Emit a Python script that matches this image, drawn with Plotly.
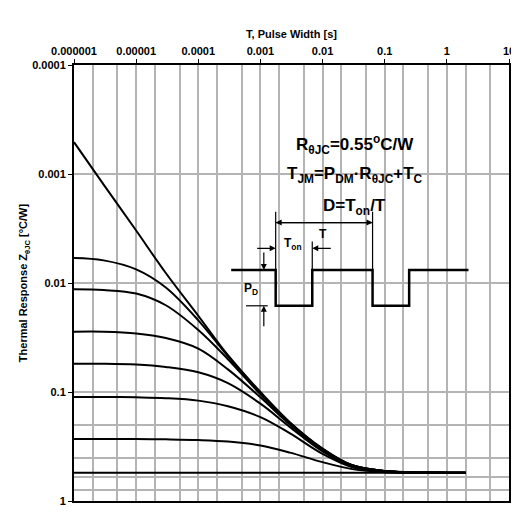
import plotly.graph_objects as go

# pulse width [s]
t = [1e-6, 3e-6, 1e-5, 3e-5, 1e-4, 3e-4, 1e-3, 3e-3, 1e-2, 3e-2, 1e-1, 1, 2]

# thermal response Zthjc [C/W]
z_single = [0.00051, 0.00125, 0.0033, 0.0081, 0.020, 0.046, 0.10, 0.19, 0.33, 0.47, 0.53, 0.55, 0.55]
z_001 = [0.0059, 0.0062, 0.0075, 0.011, 0.022, 0.047, 0.102, 0.192, 0.332, 0.47, 0.53, 0.55, 0.55]
z_002 = [0.0114, 0.0116, 0.0125, 0.016, 0.027, 0.050, 0.105, 0.195, 0.335, 0.47, 0.53, 0.55, 0.55]
z_005 = [0.028, 0.028, 0.029, 0.032, 0.040, 0.062, 0.112, 0.20, 0.34, 0.475, 0.53, 0.55, 0.55]
z_01 = [0.055, 0.055, 0.056, 0.059, 0.066, 0.083, 0.128, 0.21, 0.35, 0.48, 0.535, 0.55, 0.55]
z_02 = [0.111, 0.111, 0.112, 0.114, 0.12, 0.135, 0.17, 0.24, 0.37, 0.49, 0.54, 0.55, 0.55]
z_05 = [0.27, 0.27, 0.27, 0.272, 0.276, 0.285, 0.31, 0.36, 0.44, 0.51, 0.545, 0.55, 0.55]
z_d1 = [0.55] * len(t)

series = [z_single, z_001, z_002, z_005, z_01, z_02, z_05, z_d1]
labels = ["Single Pulse", "0.01", "0.02", "0.05", "0.1", "0.2", "0.5", "D=1"]
label_pos = [(2.2e-5, 0.00055), (3e-6, 0.0035), (4e-6, 0.0065), (4e-6, 0.0150),
             (3.5e-6, 0.030), (3.5e-6, 0.062), (4e-6, 0.155), (4e-6, 0.31)]

x_ticks = [1e-6, 1e-5, 1e-4, 1e-3, 1e-2, 1e-1, 1, 10]
x_ticktext = ["0.000001", "0.00001", "0.0001", "0.001", "0.01", "0.1", "1", "10"]
y_ticks = [0.0001, 0.001, 0.01, 0.1, 1]
y_ticktext = ["0.0001", "0.001", "0.01", "0.1", "1"]

fnt = dict(family="Arial, Liberation Sans", size=11, color="black")

fig = go.Figure()
for z in series:
    fig.add_trace(go.Scatter(x=t, y=z, mode="lines", line=dict(color="black", width=2, shape="spline"),
                             showlegend=False, hoverinfo="skip"))

for lab, (lx, ly) in zip(labels, label_pos):
    fig.add_annotation(x=lx, y=ly, text="<b>" + lab + "</b>", showarrow=False, font=fnt,
                       xref="x", yref="y", xanchor="left")


def px(x):
    return (x - 66) / 440


def py(y):
    return (497 - y) / 440


# white inset box
fig.add_shape(type="rect", xref="paper", yref="paper", x0=px(222), x1=px(478), y0=py(327), y1=py(88),
              fillcolor="white", line=dict(width=0), layer="between")

big = dict(family="Arial, Liberation Sans", size=17, color="black")
fig.add_annotation(xref="paper", yref="paper", x=px(350), y=py(123),
                   text="<b>R<sub>θJC</sub>=0.55<sup>o</sup>C/W</b>", showarrow=False, font=big)
fig.add_annotation(xref="paper", yref="paper", x=px(350), y=py(155),
                   text="<b>T<sub>JM</sub>=P<sub>DM</sub>·R<sub>θJC</sub>+T<sub>C</sub></b>", showarrow=False, font=big)
fig.add_annotation(xref="paper", yref="paper", x=px(350), y=py(187),
                   text="<b>D=T<sub>on</sub>/T</b>", showarrow=False, font=big)

# pulse diagram
wave = [(225, 264), (270, 264), (270, 300), (307, 300), (307, 264), (368, 264), (368, 300),
        (405, 300), (405, 264), (465, 264)]
path = "M " + " L ".join(f"{px(a)},{py(b)}" for a, b in wave)
fig.add_shape(type="path", xref="paper", yref="paper", path=path, line=dict(color="black", width=2.5))
thin = dict(color="black", width=1.2)
for a, b0, b1 in [(270, 205, 264), (368, 205, 264), (307, 235, 264)]:
    fig.add_shape(type="line", xref="paper", yref="paper", x0=px(a), x1=px(a), y0=py(b0), y1=py(b1), line=thin)
fig.add_shape(type="line", xref="paper", yref="paper", x0=px(240), x1=px(262), y0=py(300), y1=py(300), line=thin)

# arrows: head (x, y) in pixels, tail (x, y) in pixels
arrows = [
    ((270, 216), (368, 216)), ((368, 216), (270, 216)),
    ((270, 242), (250, 242)), ((307, 242), (327, 242)),
    ((258, 264), (258, 245)), ((258, 300), (258, 322)),
]
for (hx, hy), (tx, ty) in arrows:
    fig.add_annotation(xref="paper", yref="paper", axref="pixel", ayref="pixel", x=px(hx), y=py(hy),
                       ax=tx - hx, ay=ty - hy, text="", showarrow=True, arrowhead=2, arrowsize=1,
                       arrowwidth=1.2, arrowcolor="black")
sm = dict(family="Arial, Liberation Sans", size=12, color="black")
fig.add_annotation(xref="paper", yref="paper", x=px(288), y=py(238), text="<b>T<sub>on</sub></b>",
                   showarrow=False, font=sm)
fig.add_annotation(xref="paper", yref="paper", x=px(318), y=py(228), text="<b>T</b>", showarrow=False, font=sm)
fig.add_annotation(xref="paper", yref="paper", x=px(245), y=py(283), text="<b>P<sub>D</sub></b>",
                   showarrow=False, font=sm)

tickf = dict(family="Arial, Liberation Sans", size=11, color="black", weight="bold")
fig.update_xaxes(type="log", range=[-6, 1], side="top", tickvals=x_ticks, ticktext=x_ticktext,
                 tickfont=tickf, showline=True, linecolor="black", linewidth=2, mirror=True, ticks="outside",
                 ticklen=4, tickcolor="black", gridcolor="#b4b4b4", gridwidth=2,
                 minor=dict(showgrid=True, gridcolor="#b4b4b4", gridwidth=2),
                 title=dict(text="<b>T, Pulse Width [s]</b>", font=fnt, standoff=4), zeroline=False)
fig.update_yaxes(type="log", range=[0, -4], tickvals=y_ticks, ticktext=y_ticktext,
                 tickfont=tickf, showline=True, linecolor="black", linewidth=2, mirror=True, ticks="outside",
                 ticklen=4, tickcolor="black", gridcolor="#b4b4b4", gridwidth=2,
                 minor=dict(showgrid=True, gridcolor="#b4b4b4", gridwidth=2),
                 title=dict(text="<b>Thermal Response Z<sub>θJC</sub> [°C/W]</b>", font=fnt, standoff=2),
                 zeroline=False)
fig.update_layout(width=519, height=511, margin=dict(l=66, r=13, t=57, b=14),
                  plot_bgcolor="white", paper_bgcolor="white")
fig.write_html("out.html")
